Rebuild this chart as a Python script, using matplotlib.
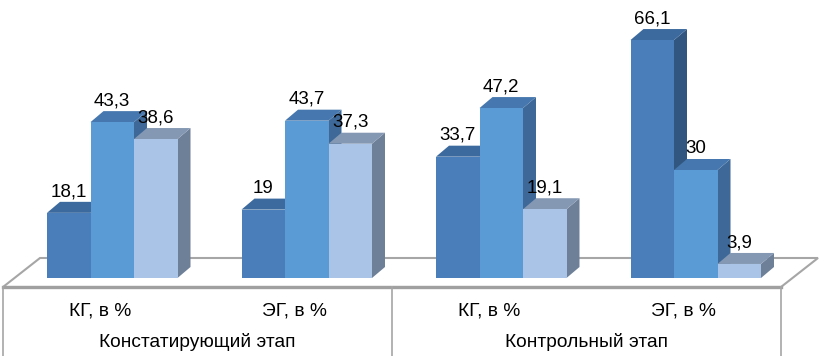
import matplotlib.pyplot as plt
from matplotlib.patches import Polygon

plt.rcParams['font.family'] = ['Liberation Sans', 'DejaVu Sans']

# data
stages = ["Констатирующий этап", "Контрольный этап"]
categories = ["КГ, в %", "ЭГ, в %", "КГ, в %", "ЭГ, в %"]
series1 = [18.1, 19, 33.7, 66.1]
series2 = [43.3, 43.7, 47.2, 30]
series3 = [38.6, 37.3, 19.1, 3.9]

# face colours: front, top, side
colors = [("#4A7EBB", "#3C6A9E", "#315781"),
          ("#5B9BD5", "#4677AE", "#3D6897"),
          ("#A9C4E7", "#8498B4", "#6E8098")]

pxu = 3.6           # pixels per value unit
cat_w = 194.5       # category width in pixels
x0 = 3              # left of category axis
bar_w = 43.5
first_off = 44
dx, dy = 13, 11 / pxu   # bar depth offset
fdx, fdy_front, fdy_back = 37, -9 / pxu, 20 / pxu   # floor

fig = plt.figure(figsize=(8.25, 3.56), dpi=100)
ax = fig.add_axes([0, 0, 1, 1])
ax.set_xlim(0, 825)
ax.set_ylim(-78 / pxu, 278 / pxu)
ax.axis('off')

# floor
x_end = x0 + cat_w * len(categories)
floor = Polygon([(x0, fdy_front), (x_end, fdy_front), (x_end + fdx, fdy_back), (x0 + fdx, fdy_back)],
                closed=True, facecolor='white', edgecolor='#A6A6A6', lw=1.5, zorder=1)
ax.add_patch(floor)
ax.plot([x0, x_end], [fdy_front, fdy_front], color='#A0A0A0', lw=2.4, zorder=2)

all_series = [series1, series2, series3]
z = 3
for i in range(len(categories)):
    for s, vals in enumerate(all_series):
        v = vals[i]
        left = x0 + cat_w * i + first_off + s * bar_w
        right = left + bar_w
        front, top, side = colors[s]
        ax.add_patch(Polygon([(right, 0), (right + dx, dy), (right + dx, v + dy), (right, v)],
                             closed=True, facecolor=side, edgecolor='none', zorder=z))
        ax.add_patch(Polygon([(left, v), (right, v), (right + dx, v + dy), (left + dx, v + dy)],
                             closed=True, facecolor=top, edgecolor='none', zorder=z))
        ax.bar(left, v, width=bar_w, bottom=0, align='edge', color=front, lw=0, zorder=z + 0.5)
        z += 1
        ax.text(left + bar_w / 2, v + dy + 0.5, f"{v:g}".replace('.', ','),
                ha='center', va='bottom', fontsize=13.5, color='black', zorder=50)

# category axis (two levels)
bottom = -78 / pxu
for k in range(len(stages) + 1):
    xl = x0 + k * cat_w * 2
    ax.plot([xl, xl], [fdy_front, bottom], color='#A6A6A6', lw=1.2, zorder=2)

for i, c in enumerate(categories):
    ax.text(x0 + cat_w * (i + 0.5), -33 / pxu, c, ha='center', va='center', fontsize=13.8)
for k, st in enumerate(stages):
    ax.text(x0 + cat_w * (2 * k + 1), -64 / pxu, st, ha='center', va='center', fontsize=13.8)

fig.savefig('out.png', dpi=100)
